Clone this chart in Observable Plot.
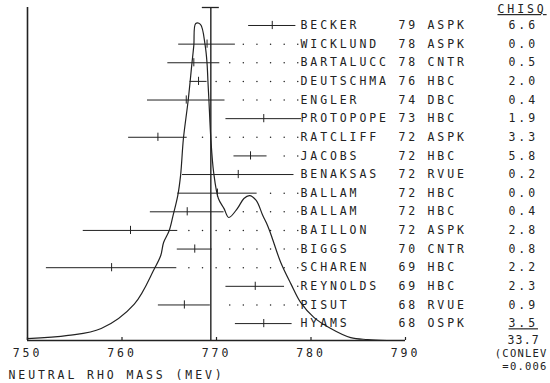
<!DOCTYPE html>
<html>
<head>
<meta charset="utf-8">
<script src="https://cdn.jsdelivr.net/npm/d3@7"></script>
<script src="https://cdn.jsdelivr.net/npm/@observablehq/plot@0.6"></script>
<style>
  html, body { margin: 0; padding: 0; background: #fff; }
  #chart svg { display: block; }
</style>
</head>
<body>
<div id="chart"></div>
<script>
// ---- data ----
const names  = ["BECKER","WICKLUND","BARTALUCC","DEUTSCHMA","ENGLER","PROTOPOPE","RATCLIFF","JACOBS","BENAKSAS","BALLAM","BALLAM","BAILLON","BIGGS","SCHAREN","REYNOLDS","PISUT","HYAMS"];
const years  = ["79","78","78","76","74","73","72","72","72","72","72","72","70","69","69","68","68"];
const techs  = ["ASPK","ASPK","CNTR","HBC","DBC","HBC","ASPK","HBC","RVUE","HBC","HBC","ASPK","CNTR","HBC","HBC","RVUE","OSPK"];
const chisq  = ["6.6","0.0","0.5","2.0","0.4","1.9","3.3","5.8","0.2","0.0","0.4","2.8","0.8","2.2","2.3","0.9","3.5"];
const masses = [775.9, 769.0, 767.6, 768.1, 766.8, 775.0, 763.8, 773.6, 772.3, 770.1, 766.9, 760.9, 767.7, 758.9, 774.1, 766.6, 775.0];
const errors = [2.5, 3.0, 2.75, 0.9, 4.1, 4.0, 3.1, 1.75, 5.9, 4.2, 3.9, 5.0, 1.85, 6.9, 3.1, 2.75, 3.0];
const meanMass = 769.4, meanErr = 0.9;
const totalChisq = "33.7";
const conlevLines = ["(CONLEV", "=0.006"];
const header = "CHISQ";
const xTicks = [750, 760, 770, 780, 790];
const xTitle = "NEUTRAL RHO MASS (MEV)";
// ideogram curve (mass, relative height)
const curveMass = [750.0, 754.3, 757.8, 761.3, 763.4, 764.1, 764.4, 765.0, 765.4, 765.9, 766.2, 766.5, 767.0, 767.4, 767.6, 767.8, 768.3, 768.8, 769.0, 769.1, 769.2, 769.4, 769.7, 770.2, 770.8, 771.3, 772.2, 772.9, 773.5, 774.2, 774.9, 775.4, 775.8, 776.8, 777.9, 778.9, 780.3, 781.9, 784.2, 786.0, 788.0];
const curveH    = [0.006, 0.016, 0.038, 0.115, 0.225, 0.268, 0.309, 0.347, 0.394, 0.457, 0.521, 0.637, 0.757, 0.874, 0.931, 1.000, 0.997, 0.931, 0.874, 0.814, 0.757, 0.637, 0.530, 0.448, 0.416, 0.388, 0.416, 0.448, 0.457, 0.442, 0.394, 0.363, 0.331, 0.246, 0.177, 0.120, 0.073, 0.041, 0.009, 0.003, 0.0];

// ---- layout constants ----
const Y_BOTTOM = 16.908, Y_TOP = -0.966, PEAK_ROWS = 17.016;
const DOT_ANCHOR = 778.6, DOT_STEP = 1.44;
const ink = "#222";

const rows = names.map((n, i) => ({
  i, name: n, year: years[i], tech: techs[i], chisq: chisq[i],
  m: masses[i], lo: masses[i] - errors[i], hi: masses[i] + errors[i]
}));
const curve = curveMass.map((m, k) => ({m, h: curveH[k]}));
const dots = rows.flatMap(r =>
  d3.range(0, 25).map(k => DOT_ANCHOR - k * DOT_STEP)
    .filter(x => x > r.hi + 0.7 && x > 750)
    .map(x => ({x, i: r.i})));
const conlevRows = conlevLines.map((s, k) => ({s, y: Y_BOTTOM + 0.68 + k * 0.7}));

const textStyle = {fill: ink, fontSize: 11.5};

const plot = Plot.plot({
  width: 550,
  height: 383,
  marginLeft: 27,
  marginRight: 145,
  marginTop: 7,
  marginBottom: 43,
  x: {domain: [750, 790]},
  y: {domain: [Y_BOTTOM, Y_TOP], axis: null},
  style: {fontFamily: "'DejaVu Sans Mono', monospace", fontSize: "11.5px", color: ink, background: "white", letterSpacing: "2.9px"},
  marks: [
    // frame lines
    Plot.ruleX([750], {stroke: ink, strokeWidth: 1.6}),
    Plot.ruleY([Y_BOTTOM], {stroke: ink, strokeWidth: 1.6}),
    Plot.ruleX(xTicks, {x: d => d, y1: Y_BOTTOM, y2: Y_BOTTOM - 0.16, stroke: ink, strokeWidth: 1.2}),
    Plot.axisX({ticks: xTicks, tickSize: 0, tickPadding: 8, label: null, tickFormat: d => String(d), fill: ink, fontSize: 11.5}),
    Plot.text([xTitle], {frameAnchor: "bottom-left", dx: -19, dy: 38, textAnchor: "start", ...textStyle}),
    // weighted mean line with cap
    Plot.ruleX([meanMass], {stroke: ink, strokeWidth: 1.4}),
    Plot.ruleY([Y_TOP], {x1: meanMass - meanErr, x2: meanMass + meanErr, stroke: ink, strokeWidth: 1.3}),
    // ideogram
    Plot.line(curve, {x: "m", y: d => Y_BOTTOM - d.h * PEAK_ROWS, curve: "catmull-rom", stroke: ink, strokeWidth: 1.2}),
    // leaders
    Plot.dot(dots, {x: "x", y: "i", r: 0.75, fill: ink, stroke: null}),
    // error bars
    Plot.ruleY(rows, {y: "i", x1: "lo", x2: "hi", stroke: ink, strokeWidth: 1}),
    Plot.ruleX(rows, {x: "m", y1: d => d.i - 0.22, y2: d => d.i + 0.22, stroke: ink, strokeWidth: 1}),
    // labels
    Plot.text(rows, {y: "i", text: "name", frameAnchor: "right", dx: -105, textAnchor: "start", ...textStyle}),
    Plot.text(rows, {y: "i", text: "year", frameAnchor: "right", dx: -7, textAnchor: "start", ...textStyle}),
    Plot.text(rows, {y: "i", text: "tech", frameAnchor: "right", dx: 22, textAnchor: "start", ...textStyle}),
    Plot.text(rows, {y: "i", text: "chisq", frameAnchor: "right", dx: 103, textAnchor: "start", ...textStyle, className: "chisqcol"}),
    Plot.text([header], {y: [Y_TOP + 0.1], frameAnchor: "right", dx: 92, textAnchor: "start", ...textStyle, className: "hdr"}),
    Plot.text([totalChisq], {y: [Y_BOTTOM], frameAnchor: "right", dx: 102, textAnchor: "start", ...textStyle, className: "summ"}),
    Plot.text(conlevRows, {y: "y", text: "s", frameAnchor: "right", dx: 142, textAnchor: "end", fill: ink, fontSize: 10.5, className: "summ"})
  ]
});

document.getElementById("chart").appendChild(plot);

const svg = d3.select(plot);
svg.selectAll(".hdr text").style("text-decoration", "underline");
svg.selectAll(".chisqcol text").filter((d, k, nodes) => k === nodes.length - 1).style("text-decoration", "underline");
svg.selectAll(".summ text").style("letter-spacing", "1.2px");
</script>
</body>
</html>
